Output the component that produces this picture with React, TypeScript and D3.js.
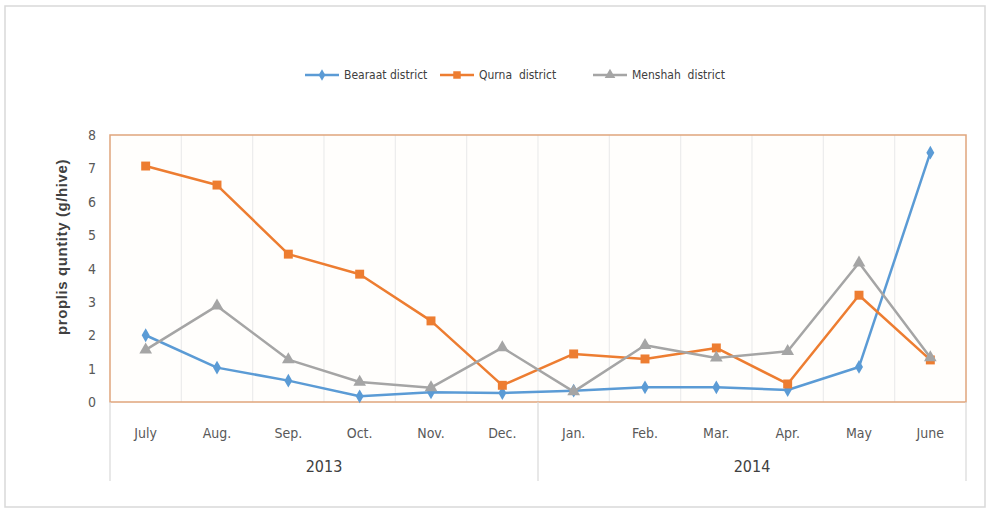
import * as d3 from "d3";

const months = ["July", "Aug.", "Sep.", "Oct.", "Nov.", "Dec.", "Jan.", "Feb.", "Mar.", "Apr.", "May", "June"];
const years = ["2013", "2014"];
const yTicks = [0, 1, 2, 3, 4, 5, 6, 7, 8];

const bearaat = [2.0, 1.03, 0.64, 0.17, 0.29, 0.27, 0.34, 0.44, 0.44, 0.36, 1.05, 7.47];
const qurna = [7.07, 6.5, 4.43, 3.83, 2.43, 0.5, 1.44, 1.29, 1.62, 0.54, 3.2, 1.26];
const menshah = [1.56, 2.88, 1.27, 0.6, 0.43, 1.63, 0.31, 1.7, 1.32, 1.52, 4.17, 1.33];

const seriesList = [
    { name: "Bearaat district", values: bearaat, color: "#5B9BD5", symbol: d3.symbolDiamond, size: 55 },
    { name: "Qurna  district", values: qurna, color: "#ED7D31", symbol: d3.symbolSquare, size: 80 },
    { name: "Menshah  district", values: menshah, color: "#A5A5A5", symbol: d3.symbolTriangle, size: 70 },
];

const font = "'Liberation Sans Narrow', 'Arial Narrow', 'DejaVu Sans Condensed', sans-serif";

function App() {
    const width = 990;
    const height = 510;
    const plot = { left: 110, right: 966, top: 135, bottom: 402 };

    const x = d3.scaleBand().domain(months).range([plot.left, plot.right]);
    const y = d3.scaleLinear().domain([0, 8]).range([plot.bottom, plot.top]);
    const xYear = d3.scaleBand().domain(years).range([plot.left, plot.right]);

    const line = d3.line<number>()
        .x((_, i) => (x(months[i]) as number) + x.bandwidth() / 2)
        .y(d => y(d));

    // legend layout
    const legendX = [305, 440, 593];

    return (
        <svg width={width} height={height} style={{ position: "absolute", left: 0, top: 0, background: "#fff" }}>
            {/* outer frame */}
            <rect x={5} y={6} width={980} height={501} fill="#fff" stroke="#d9d9d9" strokeWidth={1.5} />

            {/* legend */}
            {seriesList.map((s, i) => (
                <g key={s.name} transform={`translate(${legendX[i]},75)`}>
                    <line x1={0} x2={34} y1={0} y2={0} stroke={s.color} strokeWidth={2.5} />
                    <path d={d3.symbol().type(s.symbol).size(s.size * 0.7)() as string} transform="translate(17,0)" fill={s.color} />
                    <text x={39} y={4} fontFamily={font} fontSize={12} fill="#404040" style={{ whiteSpace: "pre" }}>{s.name}</text>
                </g>
            ))}

            {/* plot background */}
            <rect x={plot.left} y={plot.top} width={plot.right - plot.left} height={plot.bottom - plot.top} fill="#fffefc" />

            {/* vertical gridlines */}
            {months.slice(1).map(m => (
                <line key={m} x1={x(m)} x2={x(m)} y1={plot.top} y2={plot.bottom} stroke="#ececec" strokeWidth={1.2} />
            ))}

            {/* plot border */}
            <rect x={plot.left} y={plot.top} width={plot.right - plot.left} height={plot.bottom - plot.top} fill="none" stroke="#E0A57C" strokeWidth={1.5} />

            {/* y ticks */}
            {yTicks.map(t => (
                <text key={t} x={96} y={y(t) + 5} textAnchor="end" fontFamily={font} fontSize={14} fill="#595959">{t}</text>
            ))}

            {/* y title */}
            <text transform={`translate(67,247) rotate(-90)`} textAnchor="middle"
                fontFamily="'Liberation Sans', Arial, sans-serif" fontWeight="bold" fontSize={15} letterSpacing={0.6} fill="#404040">
                proplis quntity (g/hive)
            </text>

            {/* category group separators */}
            {[plot.left, xYear("2014") as number, plot.right].map((v, i) => (
                <line key={i} x1={v} x2={v} y1={plot.bottom} y2={481} stroke="#d9d9d9" strokeWidth={1.2} />
            ))}

            {/* month labels */}
            {months.map(m => (
                <text key={m} x={(x(m) as number) + x.bandwidth() / 2} y={438} textAnchor="middle" fontFamily={font} fontSize={14} fill="#595959">{m}</text>
            ))}

            {/* year labels */}
            {years.map(yr => (
                <text key={yr} x={(xYear(yr) as number) + xYear.bandwidth() / 2} y={472} textAnchor="middle" fontFamily={font} fontSize={16} fill="#404040">{yr}</text>
            ))}

            {/* series */}
            {seriesList.map(s => (
                <g key={s.name}>
                    <path d={line(s.values) as string} fill="none" stroke={s.color} strokeWidth={2.5} strokeLinejoin="round" />
                    {s.values.map((v, i) => (
                        <path key={i} d={d3.symbol().type(s.symbol).size(s.size)() as string}
                            transform={`translate(${(x(months[i]) as number) + x.bandwidth() / 2},${y(v)})`}
                            fill={s.color} />
                    ))}
                </g>
            ))}
        </svg>
    );
}

export default App;
